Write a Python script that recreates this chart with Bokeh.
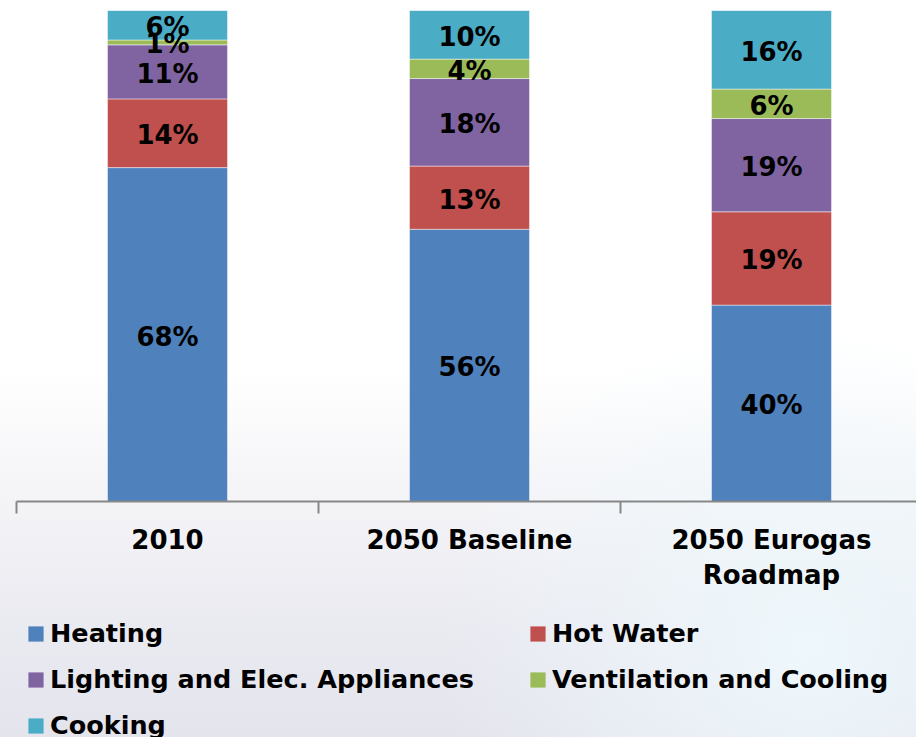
from bokeh.plotting import figure
from bokeh.layouts import column
from bokeh.models import Range1d, FixedTicker, Legend, LegendItem, ColumnDataSource
from bokeh.core.properties import value
from bokeh.embed import file_html
from bokeh.resources import INLINE

# Share of residential final energy use by end use
scenarios = ["2010", "2050 Baseline", "2050 Eurogas\nRoadmap"]
heating = [68, 56, 40]
hot_water = [14, 13, 19]
lighting = [11, 18, 19]
ventilation = [1, 4, 6]
cooking = [6, 10, 16]

series_names = ["Heating", "Hot Water", "Lighting and Elec. Appliances",
                "Ventilation and Cooling", "Cooking"]
series_values = [heating, hot_water, lighting, ventilation, cooking]
colors = ["#4F81BD", "#C0504D", "#8064A2", "#9BBB59", "#4BACC6"]

FONT = "DejaVu Sans"
n = len(scenarios)
xs = [i + 0.5 for i in range(n)]
totals = [sum(v[i] for v in series_values) for i in range(n)]

# ---- stacked column chart -------------------------------------------------
p = figure(width=916, height=600,
           x_range=Range1d(0, 900 / 302), y_range=Range1d(0, 100),
           output_backend="svg", toolbar_location=None,
           y_axis_location=None,
           min_border_left=16, min_border_right=0,
           min_border_top=10, min_border_bottom=99)
p.background_fill_color = None
p.border_fill_color = None
p.outline_line_color = None
p.xgrid.visible = False
p.ygrid.visible = False

label_x, label_y, label_t = [], [], []
running = [0.0] * n
for name, vals, col in zip(series_names, series_values, colors):
    bottoms = [running[i] for i in range(n)]
    tops = [running[i] + 100.0 * vals[i] / totals[i] for i in range(n)]
    running = tops
    src = ColumnDataSource(dict(x=xs, bottom=bottoms, top=tops))
    p.vbar(x="x", bottom="bottom", top="top", width=120 / 302, source=src,
           fill_color=col, line_color="white", line_alpha=0.45, line_width=1)
    for i in range(n):
        label_x.append(xs[i])
        label_y.append((bottoms[i] + tops[i]) / 2)
        label_t.append(f"{vals[i]}%")

p.text(x="x", y="y", text="t",
       source=ColumnDataSource(dict(x=label_x, y=label_y, t=label_t)),
       text_font=value(FONT), text_font_style="bold", text_font_size="26px",
       text_align="center", text_baseline="middle", text_color="black",
       y_offset=2)

ax = p.xaxis[0]
ax.ticker = FixedTicker(ticks=xs, minor_ticks=list(range(n + 1)))
ax.major_label_overrides = {x: s for x, s in zip(xs, scenarios)}
ax.axis_line_color = "#878787"
ax.axis_line_width = 2
ax.major_tick_line_color = None
ax.major_tick_in = 0
ax.major_tick_out = 0
ax.minor_tick_line_color = "#878787"
ax.minor_tick_line_width = 2
ax.minor_tick_in = 0
ax.minor_tick_out = 12
ax.major_label_standoff = 11
ax.major_label_text_font = FONT
ax.major_label_text_font_style = "bold"
ax.major_label_text_font_size = "26px"
ax.major_label_text_color = "black"
ax.major_label_text_line_height = 1.17

# ---- legend strip (two columns) ------------------------------------------
lg = figure(width=916, height=137, x_range=Range1d(0, 900), y_range=Range1d(0, 137),
            output_backend="svg", toolbar_location=None,
            x_axis_location=None, y_axis_location=None,
            min_border=0, min_border_left=16)
lg.background_fill_color = None
lg.border_fill_color = None
lg.outline_line_color = None
lg.xgrid.visible = False
lg.ygrid.visible = False

# zero-height swatch bars, placed outside the strip's visible range
swatches = {}
for name, col in zip(series_names, colors):
    swatches[name] = lg.vbar(x=[-50], bottom=[0], top=[0], width=1,
                             fill_color=col, line_color=None)

def make_legend(names, loc):
    return Legend(items=[LegendItem(label=nm, renderers=[swatches[nm]]) for nm in names],
                  location=loc, orientation="vertical", margin=0, padding=0,
                  spacing=16, glyph_width=19, glyph_height=19, label_standoff=5,
                  label_height=30,
                  label_text_font=FONT, label_text_font_style="bold",
                  label_text_font_size="25.5px", label_text_color="black",
                  background_fill_alpha=0, border_line_color=None)

lg.add_layout(make_legend(["Heating", "Lighting and Elec. Appliances", "Cooking"], (10, -3)))
lg.add_layout(make_legend(["Hot Water", "Ventilation and Cooling"], (512, 43)))

page = column(p, lg, spacing=0, styles={
    "background": (
        "radial-gradient(ellipse 40% 45% at 88% 88%, rgba(238,248,252,0.95) 0%, "
        "rgba(238,248,252,0) 100%), "
        "linear-gradient(to bottom, #ffffff 0%, #ffffff 50%, #f4f4f7 68%, "
        "#eaeaf1 85%, #e4e4ed 100%)"
    )
})

open("out.html", "w").write(file_html(page, INLINE))
